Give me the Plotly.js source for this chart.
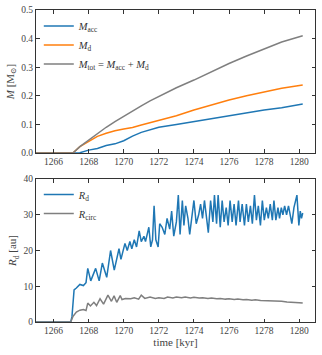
<!DOCTYPE html>
<html>
<head>
<meta charset="utf-8">
<script src="https://cdn.plot.ly/plotly-3.0.1.min.js"></script>
<style>
  html, body { margin: 0; padding: 0; background: #fff; }
  #plot { width: 322px; height: 355px; }
</style>
</head>
<body>
<div id="plot"></div>
<script>
// Mass panel (time in kyr, masses in Msun)
const tMass = [1265, 1267.1, 1267.5, 1268, 1268.5, 1269, 1269.5, 1270, 1270.5, 1271, 1271.5, 1272,
  1273, 1274, 1275, 1276, 1277, 1278, 1279, 1280.2];
const mAcc = [0, 0, 0.001, 0.010, 0.016, 0.026, 0.032, 0.043, 0.059, 0.072, 0.080, 0.090,
  0.100, 0.110, 0.121, 0.129, 0.139, 0.150, 0.158, 0.171];
const mDisk = [0, 0, 0.022, 0.040, 0.058, 0.069, 0.078, 0.084, 0.089, 0.098, 0.106, 0.115,
  0.130, 0.150, 0.168, 0.185, 0.200, 0.213, 0.226, 0.238];
const mTot = [0, 0, 0.022, 0.045, 0.068, 0.090, 0.110, 0.129, 0.147, 0.165, 0.182, 0.197,
  0.228, 0.255, 0.285, 0.313, 0.339, 0.364, 0.388, 0.410];

// Radius panel (au)
const tRd = [1265, 1266.98, 1267.05, 1267.17, 1267.3, 1267.5, 1267.7, 1267.85, 1267.95, 1268.12,
  1268.4, 1268.6, 1268.78, 1269.03, 1269.25, 1269.46, 1269.73, 1269.84, 1270.07, 1270.2,
  1270.35, 1270.46, 1270.6, 1270.73, 1270.88, 1271.0, 1271.15, 1271.24, 1271.43, 1271.54,
  1271.64, 1271.73, 1271.83, 1271.96, 1272.05, 1272.19, 1272.34, 1272.47, 1272.62, 1272.73,
  1272.85, 1273.0, 1273.11, 1273.21, 1273.34, 1273.43, 1273.53, 1273.66, 1273.76, 1273.87,
  1274.0, 1274.13, 1274.27, 1274.38, 1274.49, 1274.6, 1274.7, 1274.82, 1274.95, 1275.08,
  1275.17, 1275.29, 1275.38, 1275.5, 1275.61, 1275.72, 1275.84, 1275.95, 1276.06, 1276.18,
  1276.29, 1276.4, 1276.54, 1276.63, 1276.75, 1276.88, 1276.99, 1277.1, 1277.22, 1277.33,
  1277.45, 1277.56, 1277.67, 1277.79, 1277.9, 1278.01, 1278.13, 1278.24, 1278.35, 1278.47,
  1278.56, 1278.67, 1278.79, 1278.88, 1278.98, 1279.07, 1279.17, 1279.28, 1279.39, 1279.5,
  1279.58, 1279.7, 1279.87, 1279.98, 1280.06, 1280.13, 1280.2];
const rDisk = [0, 0, 1.5, 9, 9.5, 10.5, 10.2, 11, 15, 11.5,
  15, 11.5, 16.5, 12.5, 20, 14.5, 20.5, 17.5, 22, 20,
  22.5, 20.5, 23, 21, 25.5, 22.5, 24, 22.5, 26.5, 21,
  23, 32.5, 23, 21, 27.5, 26.5, 24.5, 29, 26, 31,
  24, 28, 35.5, 24.5, 34, 27, 32.5, 29, 24.5, 29,
  34, 27.5, 30, 33, 29, 34, 30, 25, 34, 28,
  35.5, 27.5, 35.5, 26.5, 34, 28, 32, 27, 34, 28,
  33, 27, 34, 28, 33, 27, 33, 28, 32.5, 27.5,
  35.5, 28.5, 32.5, 27, 34, 28.5, 32, 29, 33, 28.5,
  34, 28.5, 32, 29, 32, 30, 32.5, 30, 32.5, 29,
  27.5, 32, 35.5, 27, 31, 29, 30.5];

const tRc = [1265, 1266.98, 1267.1, 1267.3, 1267.5, 1267.7, 1267.85, 1267.95, 1268.1, 1268.3,
  1268.45, 1268.65, 1268.85, 1269.1, 1269.3, 1269.45, 1269.6, 1269.8, 1269.9, 1270.1,
  1270.4, 1270.6, 1270.85, 1271.0, 1271.2, 1271.5, 1271.8, 1272.0, 1272.3, 1272.5,
  1272.8, 1273.0, 1273.3, 1273.5, 1273.8, 1274.0, 1274.3, 1274.5, 1274.8, 1275.0,
  1275.3, 1275.5, 1275.8, 1276.0, 1276.3, 1276.5, 1276.8, 1277.0, 1277.3, 1277.5,
  1277.8, 1278.0, 1278.3, 1278.5, 1278.8, 1279.0, 1279.3, 1279.5, 1279.8, 1280.0, 1280.2];
const rCirc = [0, 0, 1.5, 2.8, 3.3, 3.5, 3.2, 5.3, 4.5, 5.5,
  4.6, 6.5, 5.0, 7.5, 5.8, 7.3, 5.5, 7.4, 6.3, 6.6,
  6.5, 6.8, 6.4, 7.5, 6.6, 7.0, 6.6, 6.8, 6.6, 7.0,
  6.7, 7.0, 6.8, 7.0, 6.7, 6.9, 6.7, 6.8, 6.6, 6.7,
  6.5, 6.6, 6.4, 6.5, 6.3, 6.4, 6.2, 6.3, 6.1, 6.2,
  6.0, 6.0, 5.9, 5.9, 5.8, 5.8, 5.6, 5.6, 5.5, 5.4, 5.3];

const serif = "Liberation Serif, DejaVu Serif, serif";
const axisBase = {
  showgrid: false, zeroline: false, showline: true, mirror: "ticks",
  linecolor: "#333", linewidth: 1,
  ticks: "inside", ticklen: 3.5, tickcolor: "#333",
  tickfont: { family: serif, size: 9.5, color: "#444" },
};

const traces = [
  { x: tMass, y: mAcc, mode: "lines", name: "<i>M</i><sub>acc</sub>",
    line: { color: "#1f77b4", width: 1.5 }, xaxis: "x", yaxis: "y", legend: "legend" },
  { x: tMass, y: mDisk, mode: "lines", name: "<i>M</i><sub>d</sub>",
    line: { color: "#ff7f0e", width: 1.5 }, xaxis: "x", yaxis: "y", legend: "legend" },
  { x: tMass, y: mTot, mode: "lines",
    name: "<i>M</i><sub>tot</sub> = <i>M</i><sub>acc</sub> + <i>M</i><sub>d</sub>",
    line: { color: "#7f7f7f", width: 1.5 }, xaxis: "x", yaxis: "y", legend: "legend" },
  { x: tRd, y: rDisk, mode: "lines", name: "<i>R</i><sub>d</sub>",
    line: { color: "#1f77b4", width: 1.5 }, xaxis: "x2", yaxis: "y2", legend: "legend2" },
  { x: tRc, y: rCirc, mode: "lines", name: "<i>R</i><sub>circ</sub>",
    line: { color: "#7f7f7f", width: 1.5 }, xaxis: "x2", yaxis: "y2", legend: "legend2" },
];

const legendBase = {
  xref: "paper", yref: "paper", xanchor: "left", yanchor: "top",
  bgcolor: "rgba(0,0,0,0)", borderwidth: 0,
  font: { family: serif, size: 10.5, color: "#333" },
  tracegroupgap: 0, itemwidth: 30,
};

const layout = {
  width: 322, height: 355,
  margin: { l: 36, r: 7, t: 10, b: 33 },
  paper_bgcolor: "#fff", plot_bgcolor: "#fff",
  font: { family: serif, color: "#444" },
  xaxis: { ...axisBase, anchor: "y", range: [1265, 1280.9], tickvals: [1266, 1268, 1270, 1272, 1274, 1276, 1278, 1280] },
  yaxis: { ...axisBase, domain: [0.5417, 1], range: [0, 0.5], tickvals: [0, 0.1, 0.2, 0.3, 0.4, 0.5], tickformat: ".1f",
    title: { text: "<i>M</i> [M<sub>⊙</sub>]", font: { family: serif, size: 11, color: "#444" }, standoff: 4 } },
  xaxis2: { ...axisBase, anchor: "y2", range: [1265, 1280.9], tickvals: [1266, 1268, 1270, 1272, 1274, 1276, 1278, 1280],
    title: { text: "time [kyr]", font: { family: serif, size: 11, color: "#444" }, standoff: 2 } },
  yaxis2: { ...axisBase, domain: [0, 0.4583], range: [0, 40], tickvals: [0, 10, 20, 30, 40],
    title: { text: "<i>R</i><sub>d</sub> [au]", font: { family: serif, size: 11, color: "#444" }, standoff: 4 } },
  legend: { ...legendBase, x: 0.01, y: 0.995 },
  legend2: { ...legendBase, x: 0.01, y: 0.455 },
};

Plotly.newPlot("plot", traces, layout, { displayModeBar: false, staticPlot: true });
</script>
</body>
</html>
